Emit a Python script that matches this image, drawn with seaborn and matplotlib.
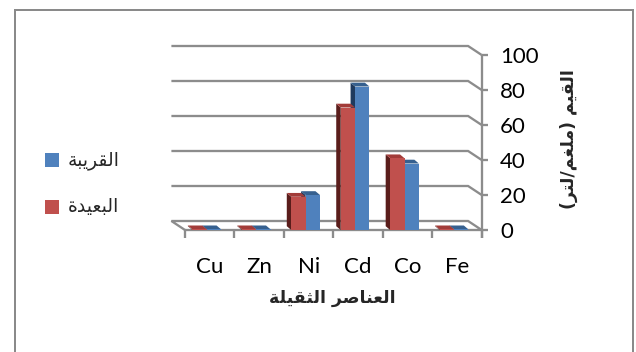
import matplotlib
matplotlib.use("Agg")
import matplotlib.pyplot as plt
from matplotlib.patches import Polygon, Rectangle
import numpy as np
import pandas as pd
import seaborn as sns

# ---- data -------------------------------------------------------------
elements = ["Cu", "Zn", "Ni", "Cd", "Co", "Fe"]
far_values = [0.4, 0.4, 19, 70, 41, 0.4]     # البعيدة
near_values = [0.4, 0.4, 20, 82, 38, 0.4]    # القريبة
site_far = "البعيدة"
site_near = "القريبة"
x_title = "العناصر الثقيلة"
y_title = "القيم (ملغم/لتر)"
y_ticks = [0, 20, 40, 60, 80, 100]

# ---- Arabic shaping (presentation forms, visual order) -----------------
_FORMS = {
    "ا": (0xFE8D, 0xFE8E), "ب": (0xFE8F, 0xFE90, 0xFE91, 0xFE92),
    "ة": (0xFE93, 0xFE94), "ت": (0xFE95, 0xFE96, 0xFE97, 0xFE98),
    "ث": (0xFE99, 0xFE9A, 0xFE9B, 0xFE9C), "د": (0xFEA9, 0xFEAA),
    "ر": (0xFEAD, 0xFEAE), "ص": (0xFEB9, 0xFEBA, 0xFEBB, 0xFEBC),
    "ع": (0xFEC9, 0xFECA, 0xFECB, 0xFECC), "غ": (0xFECD, 0xFECE, 0xFECF, 0xFED0),
    "ق": (0xFED5, 0xFED6, 0xFED7, 0xFED8), "ل": (0xFEDD, 0xFEDE, 0xFEDF, 0xFEE0),
    "م": (0xFEE1, 0xFEE2, 0xFEE3, 0xFEE4), "ن": (0xFEE5, 0xFEE6, 0xFEE7, 0xFEE8),
    "ي": (0xFEF1, 0xFEF2, 0xFEF3, 0xFEF4),
}
_DUAL = set("بتثصعغقلمني")
_ARABIC = set(_FORMS)


def shape_ar(text):
    out = []
    i, n = 0, len(text)
    while i < n:
        c = text[i]
        if c not in _ARABIC:
            out.append(c)
            i += 1
            continue
        prev = text[i - 1] if i > 0 else None
        joins_prev = prev in _DUAL
        if c == "ل" and i + 1 < n and text[i + 1] == "ا":
            out.append("\uFEFC" if joins_prev else "\uFEFB")
            i += 2
            continue
        nxt = text[i + 1] if i + 1 < n else None
        joins_next = c in _DUAL and nxt in _ARABIC
        f = _FORMS[c]
        if joins_prev and joins_next:
            g = f[3]
        elif joins_prev:
            g = f[1]
        elif joins_next:
            g = f[2]
        else:
            g = f[0]
        out.append(chr(g))
        i += 1
    vis = "".join(reversed(out))
    return vis.translate(str.maketrans("()", ")("))


# ---- style --------------------------------------------------------------
sns.set_theme(style="white")
plt.rcParams["font.family"] = ["Lato", "DejaVu Sans"]

W, H, DPI = 636, 352, 100
RED, BLUE = "#C0504D", "#4F81BD"
RED_SIDE, BLUE_SIDE = "#5A1D1B", "#1F3A5E"
RED_TOP, BLUE_TOP = "#A23C39", "#36608F"
GRID = "#8C8C8C"
LW = 2.3 * 72 / DPI          # gridline width in points
PT = 72 / DPI                # one pixel in points

fig = plt.figure(figsize=(W / DPI, H / DPI), dpi=DPI)
fig.patch.set_facecolor("white")

# front plane of the plot box, in pixels (top-left origin)
FX0, FX1, FY0, FY1 = 185, 481.7, 230, 55
ax = fig.add_axes([FX0 / W, 1 - FY0 / H, (FX1 - FX0) / W, (FY0 - FY1) / H])

df = pd.DataFrame({
    "element": elements * 2,
    "value": far_values + near_values,
    "site": [site_far] * len(elements) + [site_near] * len(elements),
})
sns.barplot(data=df, x="element", y="value", hue="site",
            hue_order=[site_far, site_near], palette=[RED, BLUE],
            width=0.58, saturation=1, legend=False, ax=ax, linewidth=0)

ax.set_xlim(-0.5, len(elements) - 0.5)
ax.set_ylim(0, 100)
for s in ax.spines.values():
    s.set_visible(False)
ax.set_xlabel("")
ax.set_ylabel("")
ax.patch.set_alpha(0)

to_disp = ax.transData.transform
to_data = ax.transData.inverted().transform


def shifted(pts, dx, dy):
    """Move data points by a pixel offset (dx right, dy up)."""
    d = to_disp(np.asarray(pts, float)) + np.array([dx, dy])
    return to_data(d)


# back wall gridlines and floor (depth seen up and to the left)
DX, DY = -13.6, 9.0
x_left, x_right = -0.5, len(elements) - 0.5
for v in y_ticks:
    pts = shifted([(x_left, v), (x_right, v)], DX, DY)
    xs = [pts[0][0], pts[1][0], x_right]
    ys = [pts[0][1], pts[1][1], v]
    if v == 0:
        xs = [x_left] + xs
        ys = [0] + ys
        xs = xs + [x_left]
        ys = ys + [0]
    ax.plot(xs, ys, color=GRID, lw=LW, clip_on=False, zorder=0.5,
            solid_capstyle="butt", solid_joinstyle="miter")

# right value axis line, running a little below the floor
ybot = to_data((to_disp((x_right, 0))[0], to_disp((x_right, 0))[1] - 8))[1]
ax.plot([x_right, x_right], [100, ybot], color=GRID, lw=LW, clip_on=False,
        zorder=0.6, solid_capstyle="butt")
# category separators under the front edge
for k in range(len(elements) + 1):
    xb = k - 0.5
    ax.plot([xb, xb], [0, ybot], color=GRID, lw=LW, clip_on=False,
            zorder=0.6, solid_capstyle="butt")

# 3-D faces for every bar
BDX, BDY = -4.5, 3.8
SHIFT_PX = -3.0
shift_data = to_data((to_disp((0, 0))[0] + SHIFT_PX, 0))[0] - to_data(
    (to_disp((0, 0))[0], 0))[0]
faces = [(ax.containers[1], BLUE_SIDE, BLUE_TOP, 1.0),
         (ax.containers[0], RED_SIDE, RED_TOP, 2.0)]
for cont, side_c, top_c, z in faces:
    for bar in cont.patches:
        bar.set_x(bar.get_x() + shift_data)
        bar.set_zorder(z + 0.5)
        x0, w, h = bar.get_x(), bar.get_width(), bar.get_height()
        fl_b, fl_t, fr_t = (x0, 0), (x0, h), (x0 + w, h)
        bl_b, bl_t, br_t = shifted([fl_b, fl_t, fr_t], BDX, BDY)
        ax.add_patch(Polygon([fl_b, fl_t, bl_t, bl_b], closed=True,
                             fc=side_c, ec="none", zorder=z, clip_on=False))
        ax.add_patch(Polygon([fl_t, fr_t, br_t, bl_t], closed=True,
                             fc=top_c, ec="none", zorder=z + 0.1, clip_on=False))

# ticks and tick labels
ax.set_xticks(range(len(elements)))
ax.set_xticklabels(elements)
ax.tick_params(axis="x", length=0, pad=19.5, labelsize=16, colors="black")
ax.yaxis.tick_right()
ax.set_yticks(y_ticks)
ax.set_yticklabels([str(v) for v in y_ticks])
ax.tick_params(axis="y", right=True, left=False, length=5.5 * PT,
               width=LW, color=GRID, pad=13 * PT, labelsize=16,
               labelcolor="black")
ax.grid(False)

# axis titles
fig.text(332 / W, 1 - 298 / H, shape_ar(x_title), ha="center", va="center",
         fontsize=12.5, fontweight="bold", family=["DejaVu Sans"])
fig.text(569 / W, 1 - 139 / H, shape_ar(y_title), ha="center", va="center",
         rotation=90, fontsize=12.5, fontweight="bold", family=["DejaVu Sans"])

# legend
for (label, color, yc) in [(site_near, BLUE, 160), (site_far, RED, 207)]:
    fig.add_artist(Rectangle((45 / W, 1 - (yc + 7) / H), 14 / W, 14 / H,
                             transform=fig.transFigure, fc=color, ec="none"))
    fig.text(68 / W, 1 - yc / H, shape_ar(label), ha="left", va="center",
             fontsize=13.5, family=["DejaVu Sans"])

# chart area border
fig.add_artist(Rectangle((15 / W, -0.1), (633 - 15) / W, 1 - 10 / H + 0.1,
                         transform=fig.transFigure, fill=False, ec="#8A8A8A",
                         lw=2 * PT))

fig.savefig("out.png", dpi=DPI)
